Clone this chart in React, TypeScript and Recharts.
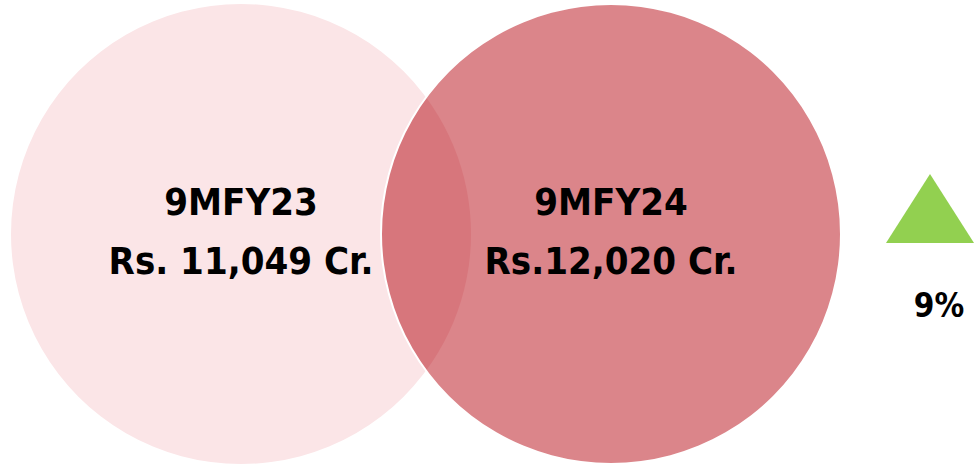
import React from 'react';
import { PieChart, Pie, Cell, Polygon, Text } from 'recharts';

// values
const periods = ['9MFY23', '9MFY24'];
const revenue = [11049, 12020];
const revenueLabels = ['Rs. 11,049 Cr.', 'Rs.12,020 Cr.'];

const W = 974;
const H = 466;
const R = 230;
const CY = 234;
const CX = [241, 611];
const COLORS = ['#FBE5E7', '#DB858A'];
const LENS = '#D7767C';
const FONT = '"DejaVu Sans Condensed", "DejaVu Sans", sans-serif';

const growth = Math.round(((revenue[1] - revenue[0]) / revenue[0]) * 100);

const slice = (i: number) => [{ name: periods[i], value: revenue[i] }];

const circleLabel = (i: number) => (props: any) => (
  <text
    key={`lbl-${i}`}
    textAnchor="middle"
    fontFamily={FONT}
    fontWeight="bold"
    fontSize={38}
    fill="#000"
  >
    <tspan x={props.cx} y={props.cy - 19}>
      {periods[i]}
    </tspan>
    <tspan x={props.cx} y={props.cy + 40}>
      {revenueLabels[i]}
    </tspan>
  </text>
);

// growth arrow sits to the right of the second circle
const TRI_X = 930;
const TRI_TOP = 174;
const TRI_BASE = 243;
const TRI_HALF = 44;

export default function App() {
  return (
    <div style={{ position: 'absolute', left: 0, top: 0, width: W, height: H }}>
      <PieChart width={W} height={H} margin={{ top: 0, right: 0, bottom: 0, left: 0 }}>
        <defs>
          <clipPath id="leftCircle">
            <circle cx={CX[0]} cy={CY} r={R} />
          </clipPath>
        </defs>
        <Pie
          data={slice(0)}
          dataKey="value"
          cx={CX[0]}
          cy={CY}
          outerRadius={R}
          startAngle={90}
          endAngle={-270}
          stroke="none"
          label={circleLabel(0)}
          labelLine={false}
          isAnimationActive={false}
        >
          <Cell fill={COLORS[0]} />
        </Pie>
        <Pie
          data={slice(1)}
          dataKey="value"
          cx={CX[1]}
          cy={CY}
          outerRadius={R}
          startAngle={90}
          endAngle={-270}
          stroke="none"
          isAnimationActive={false}
        >
          <Cell fill={COLORS[1]} />
        </Pie>
        {/* overlap of both periods */}
        <Pie
          data={slice(1)}
          dataKey="value"
          cx={CX[1]}
          cy={CY}
          outerRadius={R}
          startAngle={90}
          endAngle={-270}
          stroke="none"
          clipPath="url(#leftCircle)"
          isAnimationActive={false}
        >
          <Cell fill={LENS} clipPath="url(#leftCircle)" />
        </Pie>
        {/* thin white rim on the second circle */}
        <Pie
          data={slice(1)}
          dataKey="value"
          cx={CX[1]}
          cy={CY}
          innerRadius={R - 1}
          outerRadius={R + 1}
          startAngle={90}
          endAngle={-270}
          stroke="none"
          label={circleLabel(1)}
          labelLine={false}
          isAnimationActive={false}
        >
          <Cell fill="#FFFFFF" />
        </Pie>
        <Polygon
          points={[
            { x: TRI_X, y: TRI_TOP },
            { x: TRI_X + TRI_HALF, y: TRI_BASE },
            { x: TRI_X - TRI_HALF, y: TRI_BASE },
          ]}
          fill="#92D050"
          stroke="none"
        />
        <Text
          x={939}
          y={317}
          textAnchor="middle"
          fontFamily={FONT}
          fontWeight="bold"
          fontSize={33}
          fill="#000"
        >
          {`${growth}%`}
        </Text>
      </PieChart>
    </div>
  );
}
